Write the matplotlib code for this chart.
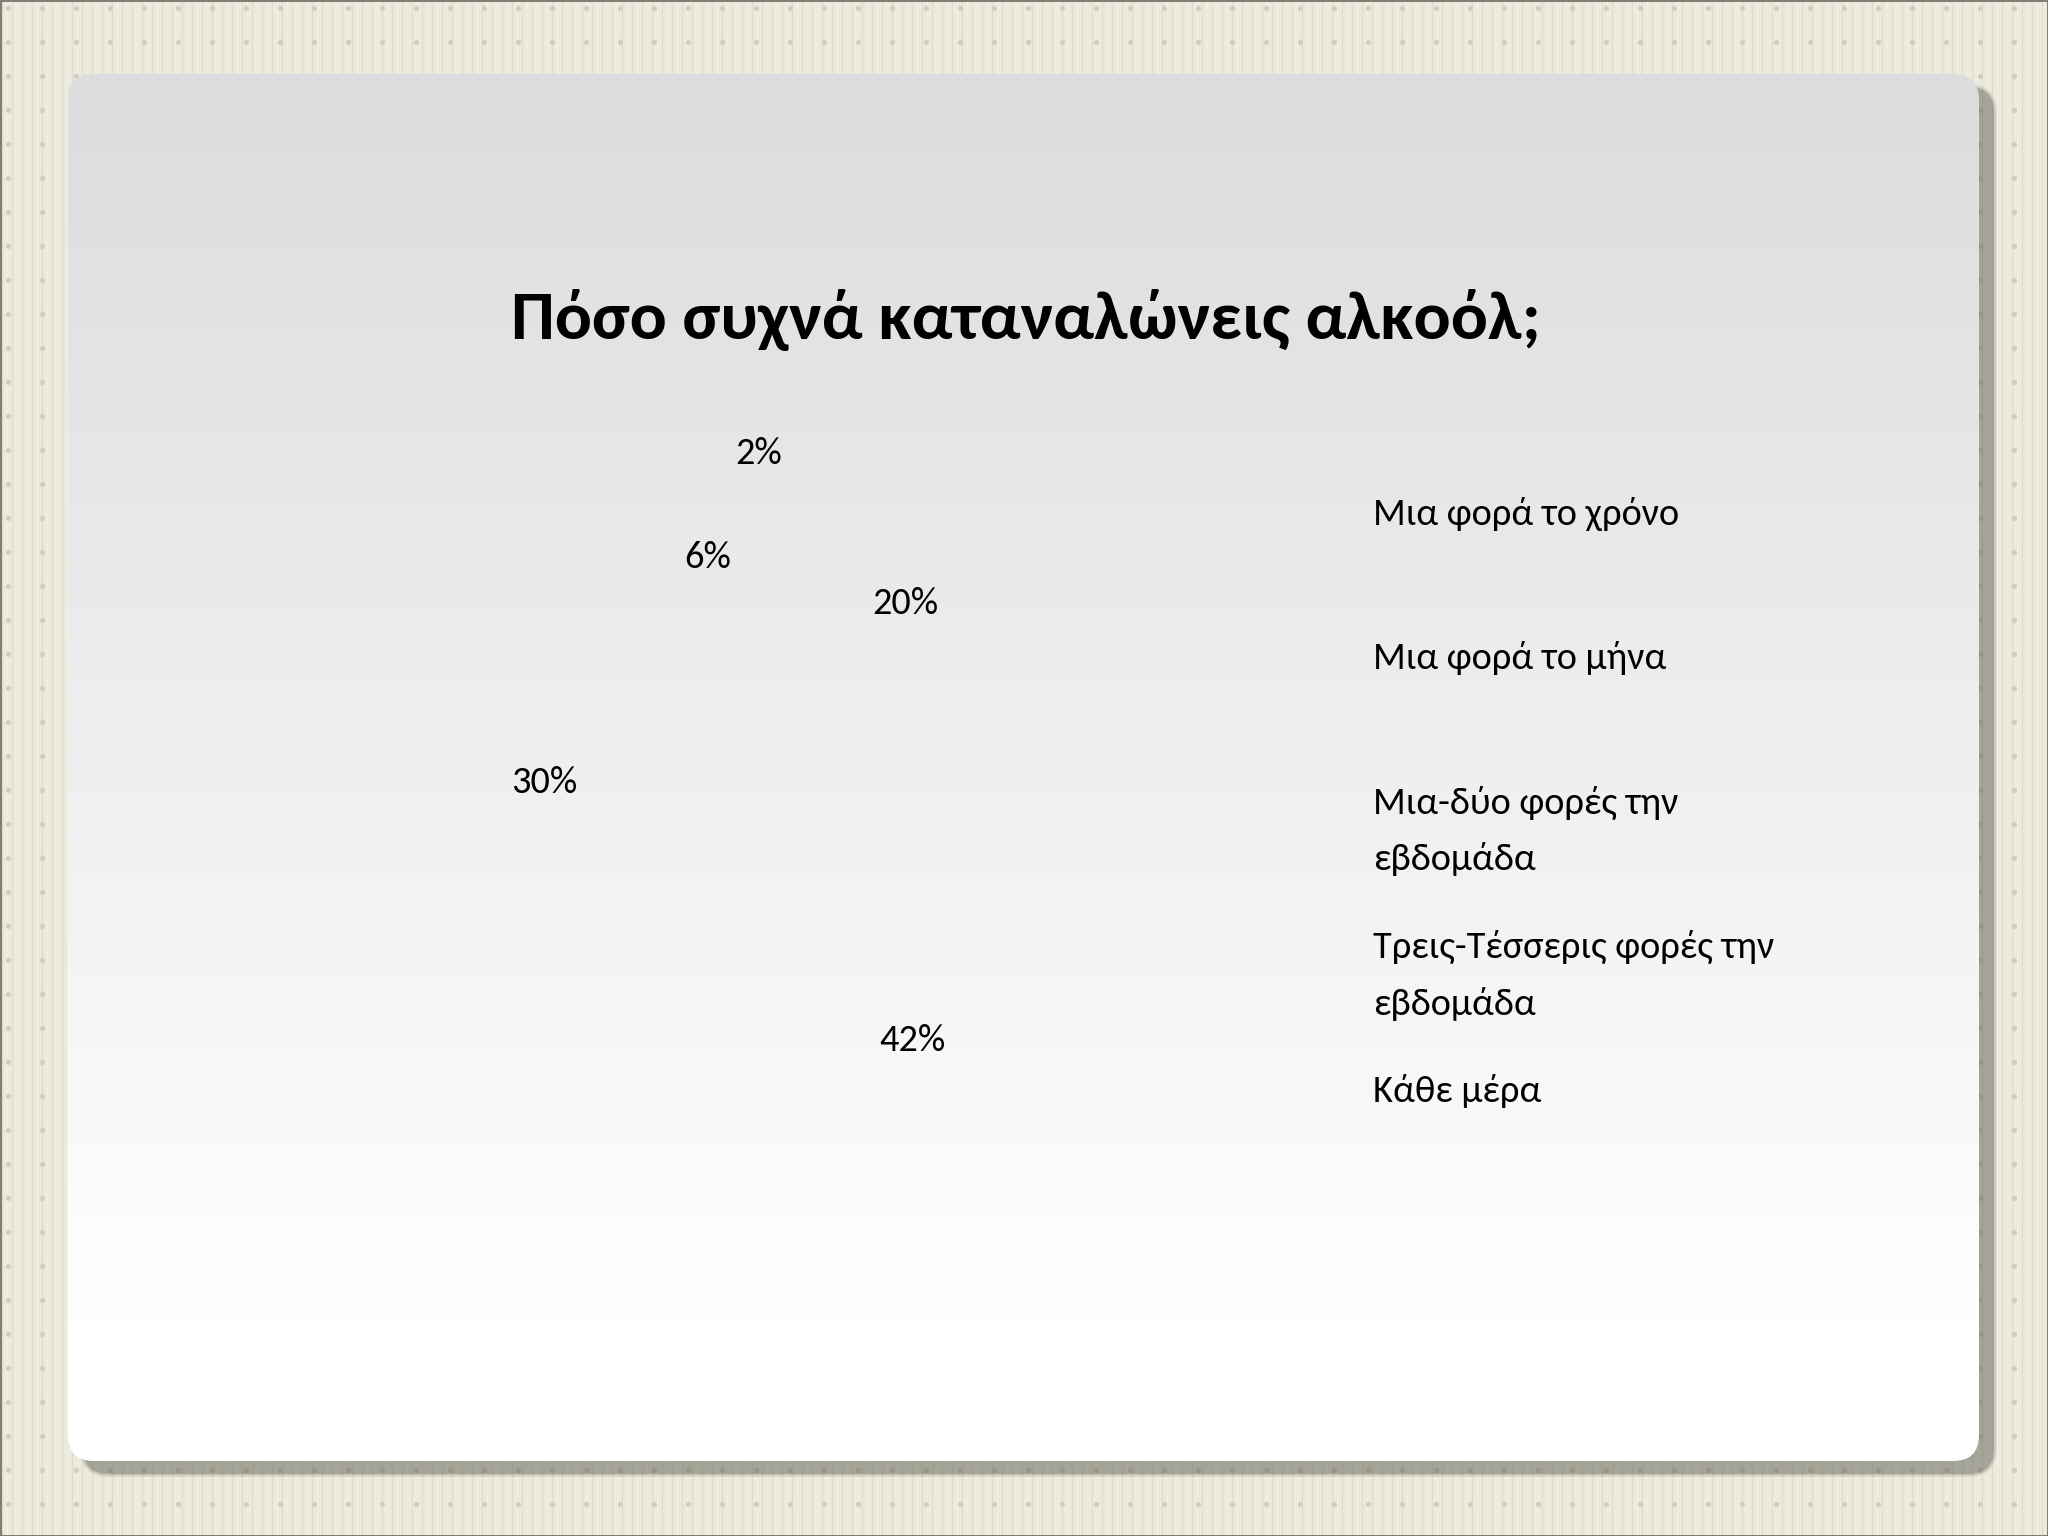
import numpy as np
import matplotlib
matplotlib.use("Agg")
import matplotlib.pyplot as plt
from matplotlib import font_manager
from matplotlib.patches import FancyBboxPatch, Rectangle

# Calibri look-alike if available, otherwise a narrow face, otherwise Open Sans
installed = {f.name for f in font_manager.fontManager.ttflist}
face = next((f for f in ['Carlito', 'Liberation Sans Narrow', 'Open Sans'] if f in installed), 'DejaVu Sans')
plt.rcParams['font.family'] = [face, 'DejaVu Sans']

# data
title = "Πόσο συχνά καταναλώνεις αλκοόλ;"
categories = ["Μια φορά το χρόνο",
              "Μια φορά το μήνα",
              "Μια-δύο φορές την\nεβδομάδα",
              "Τρεις-Τέσσερις φορές την\nεβδομάδα",
              "Κάθε μέρα"]
values = [20, 42, 30, 6, 2]

# layout (pixels of a 2048x1536 slide)
W, H = 2048, 1536
pie_cx, pie_cy, pie_r = 775, 805, 320
label_dist = [0.756, 0.845, 0.726, 0.809, 1.108]   # fraction of radius
label_nudge = [3.5, -1.9, 1.0, -3.0, -0.9]          # degrees off the wedge middle

fig = plt.figure(figsize=(20.48, 15.36), dpi=100)
fig.patch.set_facecolor('#ebeadd')
renderer = fig.canvas.get_renderer()


def fit_width(txt, target):
    # scale the font so the text spans the same width as in the slide
    w = txt.get_window_extent(renderer).width
    txt.set_fontsize(txt.get_fontsize() * target / w)
    return txt.get_fontsize()


bg = fig.add_axes([0, 0, 1, 1])
bg.set_xlim(0, W)
bg.set_ylim(H, 0)
bg.axis('off')

# striped paper with little dots
xs = np.arange(2, W, 5)
bg.vlines(xs[::2], 0, H, colors='#deddcc', lw=0.9, zorder=0)
bg.vlines(xs[1::2], 0, H, colors='#f2f1e8', lw=0.6, zorder=0)
gx, gy = np.meshgrid(np.arange(8, W, 34), np.arange(8, H, 34))
bg.scatter(gx.ravel(), gy.ravel(), s=14, color='#cfcebf', lw=0, zorder=1)
bg.add_patch(Rectangle((0.5, 0.5), W - 1, H - 1, fill=False, ec='#6a6a62', lw=1.2, zorder=5))

# panel shadow
x0, y0, x1, y1 = 68, 74, 1979, 1461
rad = 26
for grow, a in [(3, 0.12), (1.5, 0.15), (0, 0.3)]:
    shadow = FancyBboxPatch((x0 + 15 + rad, y0 + 13 + rad), x1 - x0 - 2 * rad, y1 - y0 - 2 * rad,
                            boxstyle=f"round,pad={rad + grow}", fc='#5a5a4e', ec='none',
                            alpha=a, zorder=2)
    bg.add_patch(shadow)

# panel with vertical gradient
panel = FancyBboxPatch((x0 + rad, y0 + rad), x1 - x0 - 2 * rad, y1 - y0 - 2 * rad,
                       boxstyle=f"round,pad={rad}", fc='none', ec='none', zorder=3)
bg.add_patch(panel)
t = np.linspace(0, 1, 256)
top = np.array([220, 219, 222]) / 255
bot = np.array([255, 255, 255]) / 255
k = np.clip(t / 0.9, 0, 1)[:, None]
grad = (top * (1 - k) + bot * k)[:, None, :]
im = bg.imshow(grad, extent=(x0, x1, y1, y0), aspect='auto', zorder=3, interpolation='bilinear')
im.set_clip_path(panel)

# title
ttl = bg.text(1026, 339, title, ha='center', va='baseline', fontsize=54, fontweight='bold',
              color='black', zorder=6)
fit_width(ttl, 1030)

# legend entries (no visible keys), one text per line
probe = bg.text(0, 0, categories[0], fontsize=31)
leg_size = fit_width(probe, 306)
probe.remove()
for i, cat in enumerate(categories):
    for j, line in enumerate(cat.split('\n')):
        bg.text(1373, 525 + 144.2 * i + 57 * j, line, ha='left', va='baseline',
                fontsize=leg_size, color='black', zorder=6)

# pie with invisible wedges, only percentage labels shown
pax = fig.add_axes([(pie_cx - pie_r) / W, (H - pie_cy - pie_r) / H, 2 * pie_r / W, 2 * pie_r / H])
wedges, _ = pax.pie(values, colors=['none'] * len(values), startangle=90, counterclock=False,
                    wedgeprops=dict(linewidth=0))
pax.set_xlim(-1, 1)
pax.set_ylim(-1, 1)
pax.axis('off')
probe = pax.text(0, 0, "20%", fontsize=31)
pct_size = fit_width(probe, 66)
probe.remove()
for w, v, d, nd in zip(wedges, values, label_dist, label_nudge):
    ang = np.deg2rad((w.theta1 + w.theta2) / 2 + nd)
    pax.text(d * np.cos(ang), d * np.sin(ang), f"{v}%", ha='center', va='center_baseline',
             fontsize=pct_size, color='black')

fig.savefig("out.png", dpi=100)
